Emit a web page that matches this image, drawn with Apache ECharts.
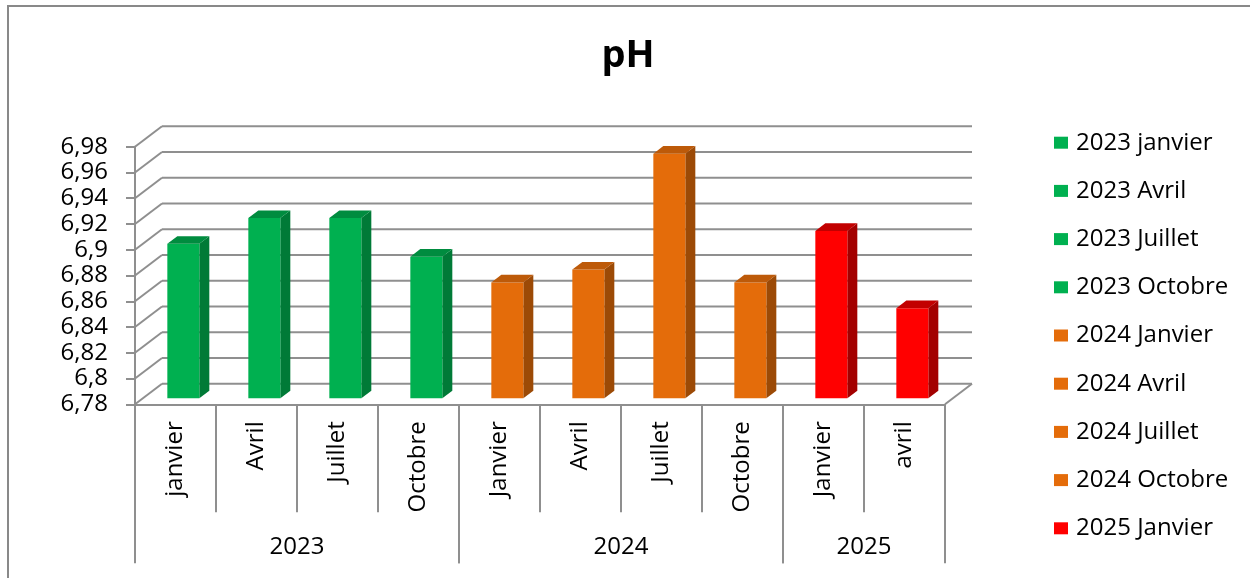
<!DOCTYPE html>
<html>
<head>
<meta charset="utf-8">
<script src="https://cdn.jsdelivr.net/npm/echarts@6/dist/echarts.min.js"></script>
<style>
  html, body { margin: 0; padding: 0; background: #fff; }
  #chart { width: 1250px; height: 578px; }
</style>
</head>
<body>
<div id="chart"></div>
<script>
// ---- data ----
const months = ['janvier', 'Avril', 'Juillet', 'Octobre', 'Janvier', 'Avril', 'Juillet', 'Octobre', 'Janvier', 'avril'];
const pointYears = ['2023', '2023', '2023', '2023', '2024', '2024', '2024', '2024', '2025', '2025'];
const phValues = [6.90, 6.92, 6.92, 6.89, 6.87, 6.88, 6.97, 6.87, 6.91, 6.85];
const yearGroups = ['2023', '2024', '2025'];
const yearSpans = [4, 4, 2];
const yTicks = [6.78, 6.80, 6.82, 6.84, 6.86, 6.88, 6.90, 6.92, 6.94, 6.96, 6.98];
const yMin = 6.78, yMax = 6.98, yStep = 0.02;
const legendShown = 9;

// ---- styles ----
const FONT = 'Open Sans';
const GRIDC = '#8f8f8f';
const yearColors = {
  '2023': { front: '#00B050', side: '#007A37', top: '#008C3F' },
  '2024': { front: '#E46C0A', side: '#9C4A06', top: '#BD5A09' },
  '2025': { front: '#FF0000', side: '#A30000', top: '#C20000' }
};
const DX = 27, DY = -20.5;      // depth vector of the 3D box
const F1 = 0.29, F2 = 0.66;     // bar front/back depth fractions
const BARW = 0.395;             // bar width fraction of band

const chart = echarts.init(document.getElementById('chart'), null, { renderer: 'canvas' });

function renderGrid(params, api) {
  const cs = params.coordSys;
  const v = api.value(1);
  const y = api.coord([0, v])[1];
  const x0 = cs.x, x1 = cs.x + cs.width;
  const ls = { stroke: GRIDC, lineWidth: 2 };
  const children = [
    { type: 'line', shape: { x1: x0 + DX, y1: y + DY, x2: x1 + DX, y2: y + DY }, style: ls },
    { type: 'line', shape: { x1: x0, y1: y, x2: x0 + DX, y2: y + DY }, style: ls }
  ];
  if (params.dataIndex === 0) {
    children.push({ type: 'line', shape: { x1: x1, y1: y, x2: x1 + DX, y2: y + DY }, style: ls });
  }
  return { type: 'group', children: children };
}

function renderBar(params, api) {
  const i = api.value(0), v = api.value(1);
  const col = yearColors[pointYears[i]];
  const top = api.coord([i, v]);
  const base = api.coord([i, yMin]);
  const w = api.size([1, 0])[0] * BARW;
  const ox1 = DX * F1, oy1 = DY * F1;
  const ddx = DX * (F2 - F1), ddy = DY * (F2 - F1);
  const xl = top[0] - w / 2 + ox1, xr = top[0] + w / 2 + ox1;
  const yt = top[1] + oy1, yb = base[1] + oy1;
  return {
    type: 'group',
    children: [
      { type: 'polygon', shape: { points: [[xr, yt], [xr + ddx, yt + ddy], [xr + ddx, yb + ddy], [xr, yb]] }, style: { fill: col.side } },
      { type: 'rect', shape: { x: xl, y: yt, width: w, height: yb - yt }, style: { fill: col.front } },
      { type: 'polygon', shape: { points: [[xl, yt], [xr, yt], [xr + ddx, yt + ddy], [xl + ddx, yt + ddy]] }, style: { fill: col.top } }
    ]
  };
}

function renderTable(params, api) {
  const cs = params.coordSys;
  const start = api.value(0), span = api.value(1);
  const band = api.size([1, 0])[0];
  const xl = cs.x + start * band, xr = xl + span * band;
  const y0 = cs.y + cs.height;
  const ls = { stroke: GRIDC, lineWidth: 2 };
  return {
    type: 'group',
    children: [
      { type: 'line', shape: { x1: xl, y1: y0, x2: xl, y2: y0 + 159 }, style: ls },
      { type: 'line', shape: { x1: xr, y1: y0, x2: xr, y2: y0 + 159 }, style: ls },
      { type: 'text', style: { text: yearGroups[params.dataIndex], x: (xl + xr) / 2, y: y0 + 142.5,
        align: 'center', verticalAlign: 'middle', fontFamily: FONT, fontSize: 24, fill: '#000' } }
    ]
  };
}

const groupData = [];
let acc = 0;
yearSpans.forEach(function (s) { groupData.push([acc, s]); acc += s; });

const legendNames = months.map(function (m, i) { return pointYears[i] + ' ' + m; });

const series = [
  {
    type: 'custom', name: '_grid', z: 1, silent: true, clip: false,
    renderItem: renderGrid,
    encode: { x: 0, y: 1 },
    data: yTicks.map(function (t) { return [0, t]; })
  },
  {
    type: 'custom', name: '_table', z: 1, silent: true, clip: false,
    renderItem: renderTable,
    encode: { x: 0, y: 1 },
    data: groupData
  }
];
phValues.forEach(function (v, i) {
  series.push({
    type: 'custom', name: legendNames[i], z: 3, clip: false,
    itemStyle: { color: yearColors[pointYears[i]].front },
    renderItem: renderBar,
    encode: { x: 0, y: 1 },
    data: [[i, v]]
  });
});

chart.setOption({
  animation: false,
  backgroundColor: '#fff',
  title: {
    text: 'pH', left: 623, top: 32, textAlign: 'center',
    textStyle: { fontFamily: FONT, fontWeight: 'bold', fontSize: 38, color: '#000' }
  },
  graphic: [
    { type: 'rect', shape: { x: 8, y: 6, width: 1400, height: 800 }, style: { fill: 'none', stroke: '#898989', lineWidth: 2 }, silent: true }
  ],
  legend: {
    orient: 'vertical', left: 1054, top: 130.7, padding: 0,
    itemWidth: 14, itemHeight: 12, itemGap: 24.2,
    icon: 'rect', selectedMode: false,
    textStyle: { fontFamily: FONT, fontSize: 24, lineHeight: 24, color: '#000', padding: [0, 0, 0, 3] },
    data: legendNames.slice(0, legendShown).map(function (n, i) {
      return { name: n, itemStyle: { color: yearColors[pointYears[i]].front } };
    })
  },
  grid: { left: 135, top: 146.7, width: 810, height: 257.6, containLabel: false },
  xAxis: {
    type: 'category', data: months, boundaryGap: true,
    axisLine: { show: true, lineStyle: { color: GRIDC, width: 2 } },
    axisTick: { show: true, interval: 0, length: 108, lineStyle: { color: GRIDC, width: 2 } },
    axisLabel: { interval: 0, rotate: 90, margin: 17, fontFamily: FONT, fontSize: 24, color: '#000' },
    splitLine: { show: false }
  },
  yAxis: {
    type: 'value', min: yMin, max: yMax, interval: yStep,
    axisLine: { show: true, lineStyle: { color: GRIDC, width: 2 } },
    axisTick: { show: true, length: 9, lineStyle: { color: GRIDC, width: 2 } },
    axisLabel: { margin: 27, fontFamily: FONT, fontSize: 24, color: '#000',
      formatter: function (v) { return String(Math.round(v * 100) / 100).replace('.', ','); } },
    splitLine: { show: false }
  },
  series: series
});
</script>
</body>
</html>
